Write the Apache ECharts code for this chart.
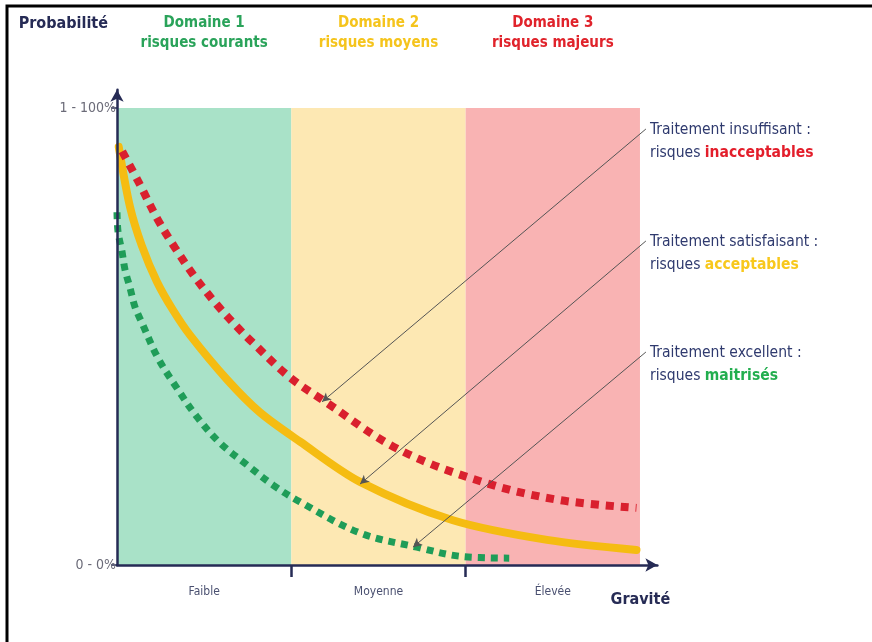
<!DOCTYPE html>
<html>
<head>
<meta charset="utf-8">
<script src="https://cdn.jsdelivr.net/npm/echarts@6/dist/echarts.min.js"></script>
<style>html,body{margin:0;padding:0;background:#fff}#c{width:872px;height:642px}</style>
</head>
<body>
<div id="c"></div>
<script>
// ---- data ----
var categories = ['Faible', 'Moyenne', 'Élevée'];
var categoryPositions = [0.5, 1.5, 2.5];
var domainBounds = [[0, 1], [1, 2], [2, 3]];
var domainTitles = ['Domaine 1', 'Domaine 2', 'Domaine 3'];
var domainSubtitles = ['risques courants', 'risques moyens', 'risques majeurs'];
var yTickValues = [0, 100];
var yTickLabels = ['0 - 0%', '1 - 100%'];
var xTickValues = [1, 2];

var redCurve = [[0.03,90.5],[0.132,83.2],[0.229,75.9],[0.333,69.4],[0.447,63.0],[0.574,56.9],[0.706,51.4],[0.78,48.6],[0.99,41.1],[1.18,36.1],[1.62,25.2],[2.12,17.9],[2.54,14.2],[2.98,12.5]];
var yellowCurve = [[0.01,91.5],[0.075,78.3],[0.143,69.8],[0.229,62.0],[0.321,55.8],[0.419,50.3],[0.631,40.6],[0.82,33.4],[1.05,27.0],[1.394,18.2],[1.927,9.8],[2.467,5.5],[2.98,3.3]];
var greenCurve = [[0.0,77.2],[0.006,72.9],[0.029,68.5],[0.046,64.6],[0.075,60.6],[0.103,56.5],[0.143,53.0],[0.235,45.3],[0.344,38.7],[0.459,32.4],[0.591,26.7],[0.746,21.9],[0.895,17.5],[1.05,13.8],[1.394,7.0],[1.72,3.9],[1.97,1.9],[2.25,1.5]];

var noteTitles = ['Traitement insuffisant :', 'Traitement satisfaisant :', 'Traitement excellent :'];
var noteWords = ['inacceptables', 'acceptables', 'maitrisés'];
var noteStarts = [[3.034, 95.4], [3.034, 70.9], [3.034, 46.6]];
var noteTargets = [[1.176, 35.7], [1.394, 17.7], [1.698, 3.9]];

// ---- styles ----
var FONT = "'DejaVu Sans Condensed', 'Liberation Sans Narrow', 'DejaVu Sans', sans-serif";
var NAVY = '#262b55';
var bandColors = ['#a9e2c8', '#fde8b3', '#f9b3b3'];
var titleColors = ['#2aa35a', '#f5c41c', '#e0232b'];
var noteColors = ['#e31e2b', '#f8c81c', '#22ae4e'];
var curveColors = ['#d9202e', '#f5bc12', '#1f9d58'];

var chart = echarts.init(document.getElementById('c'));

var markAreaData = domainBounds.map(function (b, i) {
  return [
    { xAxis: b[0], yAxis: 0, itemStyle: { color: bandColors[i] },
      label: { formatter: '{a|' + domainTitles[i] + '}\n{a|' + domainSubtitles[i] + '}', rich: { a: { color: titleColors[i], fontFamily: FONT, fontWeight: 'bold', fontSize: 15, lineHeight: 20, align: 'center' } } } },
    { xAxis: b[1], yAxis: 100 }
  ];
});

var markLineData = noteStarts.map(function (s, i) {
  return [{ coord: s }, { coord: noteTargets[i] }];
});

var graphics = [
  { type: 'rect', shape: { x: 7, y: 6, width: 1000, height: 800 }, style: { fill: 'none', stroke: '#000', lineWidth: 3 }, silent: true }
];
var noteY = [122, 234, 345];
noteTitles.forEach(function (t, i) {
  graphics.push({
    type: 'text', left: 650, top: noteY[i],
    style: {
      text: '{n|' + t + '}\n{n|risques }{h|' + noteWords[i] + '}',
      rich: {
        n: { fill: '#2f3a6e', fontFamily: FONT, fontSize: 15.5, lineHeight: 23 },
        h: { fill: noteColors[i], fontFamily: FONT, fontSize: 15.5, fontWeight: 'bold', lineHeight: 23 }
      }
    }
  });
});

var option = {
  backgroundColor: '#ffffff',
  animation: false,
  grid: { left: 117, top: 89.7, width: 540.4, height: 475.3 },
  xAxis: {
    type: 'value', min: 0, max: 3.1, z: 10,
    name: 'Gravité', nameLocation: 'end', nameGap: -17,
    nameTextStyle: { color: NAVY, fontFamily: FONT, fontWeight: 'bold', fontSize: 16, align: 'center', verticalAlign: 'top', padding: [27, 0, 0, 0] },
    axisLine: { show: true, lineStyle: { color: NAVY, width: 2.5 }, symbol: ['none', 'arrow'], symbolSize: [10, 12] },
    axisTick: { show: true, customValues: xTickValues, length: 12, lineStyle: { color: NAVY, width: 2.5 } },
    axisLabel: { customValues: categoryPositions, margin: 21, color: '#4a5070', fontFamily: FONT, fontSize: 12,
      formatter: function (v) { var i = categoryPositions.indexOf(v); return i >= 0 ? categories[i] : ''; } },
    splitLine: { show: false }
  },
  yAxis: {
    type: 'value', min: 0, max: 104, z: 10,
    name: 'Probabilité', nameLocation: 'end', nameGap: 58,
    nameTextStyle: { color: NAVY, fontFamily: FONT, fontWeight: 'bold', fontSize: 16, align: 'right', padding: [0, 9, 0, 0] },
    axisLine: { show: true, lineStyle: { color: NAVY, width: 2.5 }, symbol: ['none', 'arrow'], symbolSize: [10, 12] },
    axisTick: { show: true, customValues: yTickValues, length: 6, lineStyle: { color: NAVY, width: 1.5 } },
    axisLabel: { customValues: yTickValues, margin: 1, color: '#6b6b78', fontFamily: FONT, fontSize: 14,
      formatter: function (v) { var i = yTickValues.indexOf(v); return i >= 0 ? yTickLabels[i] : ''; } },
    splitLine: { show: false }
  },
  graphic: graphics,
  series: [
    { name: 'bands', type: 'line', data: [], z: 1, silent: true,
      markArea: { silent: true, label: { show: true, position: 'top', distance: 55 }, data: markAreaData } },
    { name: 'excellent', type: 'line', data: greenCurve, z: 3, smooth: 0.35, showSymbol: false, silent: true,
      lineStyle: { color: curveColors[2], width: 7, type: [7, 6], cap: 'butt' } },
    { name: 'satisfaisant', type: 'line', data: yellowCurve, z: 3, smooth: 0.3, showSymbol: false, silent: true,
      lineStyle: { color: curveColors[1], width: 8, cap: 'round' } },
    { name: 'insuffisant', type: 'line', data: redCurve, z: 4, smooth: 0.35, showSymbol: false, silent: true,
      lineStyle: { color: curveColors[0], width: 8, type: [8, 7], cap: 'butt' } },
    { name: 'leaders', type: 'line', data: [], z: 5, silent: true,
      markLine: { silent: true, symbol: ['none', 'arrow'], symbolSize: [7, 9], label: { show: false },
        lineStyle: { color: '#555', width: 1, type: 'solid' }, itemStyle: { color: '#222' }, data: markLineData } }
  ]
};
chart.setOption(option);
</script>
</body>
</html>
